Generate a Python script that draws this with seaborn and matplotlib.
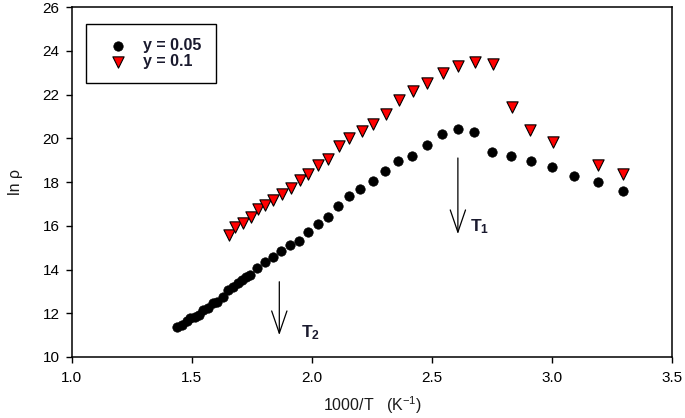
import matplotlib
matplotlib.use("Agg")
import matplotlib.pyplot as plt
import pandas as pd
import seaborn as sns

# ---- data ----
x_005 = [1.436, 1.457, 1.478, 1.494, 1.512, 1.531, 1.547, 1.568, 1.589, 1.603,
         1.628, 1.651, 1.672, 1.690, 1.707, 1.725, 1.742, 1.772, 1.804, 1.836,
         1.871, 1.908, 1.946, 1.985, 2.026, 2.065, 2.110, 2.156, 2.200, 2.253,
         2.304, 2.358, 2.418, 2.478, 2.540, 2.607, 2.676, 2.749, 2.828, 2.913,
         3.001, 3.092, 3.190, 3.297]
y_005 = [11.39, 11.46, 11.66, 11.77, 11.84, 11.92, 12.15, 12.22, 12.45, 12.53,
         12.76, 13.06, 13.21, 13.37, 13.52, 13.64, 13.75, 14.05, 14.36, 14.56,
         14.85, 15.12, 15.30, 15.73, 16.08, 16.41, 16.92, 17.37, 17.68, 18.06,
         18.50, 18.98, 19.20, 19.68, 20.19, 20.42, 20.30, 19.39, 19.20, 18.97,
         18.70, 18.29, 18.02, 17.60]

x_01 = [1.656, 1.681, 1.711, 1.745, 1.774, 1.804, 1.839, 1.874, 1.911, 1.950,
        1.985, 2.026, 2.068, 2.112, 2.156, 2.207, 2.256, 2.308, 2.362, 2.422,
        2.480, 2.544, 2.610, 2.679, 2.753, 2.832, 2.910, 3.003, 3.193, 3.297]
y_01 = [15.60, 15.94, 16.11, 16.39, 16.77, 16.95, 17.18, 17.45, 17.71, 18.09,
        18.35, 18.78, 19.05, 19.64, 20.02, 20.33, 20.65, 21.11, 21.75, 22.17,
        22.51, 22.97, 23.30, 23.50, 23.39, 21.44, 20.40, 19.84, 18.78, 18.37]

series_labels = ["y = 0.05", "y = 0.1"]
x_ticks = [1.0, 1.5, 2.0, 2.5, 3.0, 3.5]
y_ticks = [10, 12, 14, 16, 18, 20, 22, 24, 26]

# arrows: (x, y_start, y_tip), labels
arrow_T1 = (2.608, 19.10, 15.62)
arrow_T2 = (1.864, 13.44, 11.00)
label_T1 = (2.66, 15.95, r"$\mathbf{T_1}$")
label_T2 = (1.955, 11.10, r"$\mathbf{T_2}$")

# ---- style ----
sns.set_style("ticks")
plt.rcParams['font.family'] = ['Liberation Sans', 'DejaVu Sans']
plt.rcParams['mathtext.fontset'] = 'custom'
plt.rcParams['mathtext.rm'] = 'Liberation Sans'
plt.rcParams['mathtext.bf'] = 'Liberation Sans:bold'
plt.rcParams['mathtext.it'] = 'Liberation Sans:italic'

fig = plt.figure(figsize=(6.85, 4.18), dpi=100)
ax = fig.add_axes([0.105, 0.146, 0.876, 0.837])

df1 = pd.DataFrame({"x": x_005, "y": y_005, "series": series_labels[0]})
df2 = pd.DataFrame({"x": x_01, "y": y_01, "series": series_labels[1]})

sns.scatterplot(data=df1, x="x", y="y", marker="o", color="black",
                edgecolor="black", linewidth=0.5, s=46, ax=ax,
                label=series_labels[0], zorder=3)
sns.scatterplot(data=df2, x="x", y="y", marker="v", color="#ff0000",
                edgecolor="black", linewidth=0.8, s=66, ax=ax,
                label=series_labels[1], zorder=3)

ax.set_xlim(1.0, 3.5)
ax.set_ylim(10, 26)
ax.set_xticks(x_ticks)
ax.set_xticklabels([f"{v:.1f}" for v in x_ticks])
ax.set_yticks(y_ticks)
ax.tick_params(axis="both", direction="out", length=4, width=1.0,
               labelsize=11, colors="black")
ax.tick_params(axis="x", pad=6)
ax.tick_params(axis="y", pad=5)
for sp in ax.spines.values():
    sp.set_visible(True)
    sp.set_color("black")
    sp.set_linewidth(1.1)

ax.set_xlabel(r"1000/T   (K$^{-1}$)", fontsize=11.5, color="#1a1a1a", labelpad=7)
ax.set_ylabel("ln ρ", fontsize=11.5, color="#1a1a1a", labelpad=14)

# arrows
for (xa, ys, yt) in (arrow_T1, arrow_T2):
    ax.annotate("", xy=(xa, yt), xytext=(xa, ys),
                arrowprops=dict(arrowstyle="->,head_length=1.6,head_width=0.55",
                                color="black", lw=0.9, shrinkA=0, shrinkB=0))
for (xl, yl, txt) in (label_T1, label_T2):
    ax.text(xl, yl, txt, fontsize=12.5, ha="left", va="center", color="#1a1a2e")

leg = ax.legend(loc="upper left", bbox_to_anchor=(0.023, 0.953),
                borderaxespad=0, fancybox=False, frameon=True,
                prop={"family": "Liberation Sans", "weight": "bold", "size": 11.5},
                handletextpad=0.5, handlelength=2.2, labelspacing=0.05,
                borderpad=0.9)
leg.get_frame().set_edgecolor("black")
leg.get_frame().set_linewidth(1.0)
leg.get_frame().set_alpha(1)
for t in leg.get_texts():
    t.set_color("#1a1a2e")

fig.savefig("out.png", dpi=100)
